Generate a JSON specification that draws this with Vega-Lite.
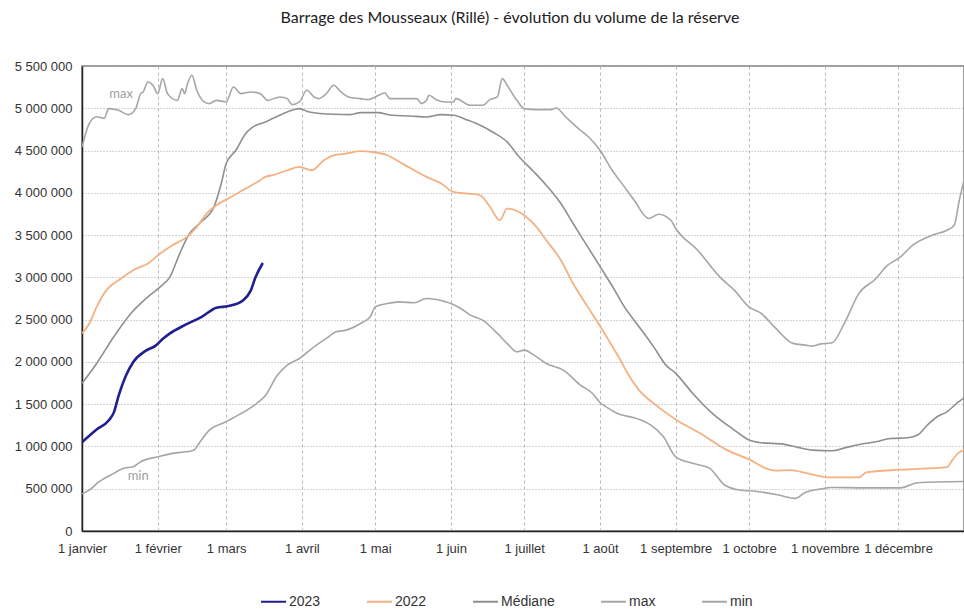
{
  "$schema": "https://vega.github.io/schema/vega-lite/v6.json",
  "width": 882,
  "height": 465,
  "autosize": {"type": "none"},
  "padding": {"left": 82, "top": 66, "right": 0, "bottom": 80},
  "background": "white",
  "title": {
    "text": "Barrage des Mousseaux (Rillé) - évolution du volume de la réserve",
    "font": "Lato",
    "fontSize": 16,
    "fontWeight": "normal",
    "color": "#222222",
    "anchor": "middle",
    "dx": -13,
    "offset": 34
  },
  "config": {
    "view": {"stroke": "#808080", "strokeWidth": 1.5},
    "axis": {
      "labelFont": "Liberation Sans",
      "labelFontSize": 13,
      "labelColor": "#333333",
      "ticks": false,
      "domainColor": "#222222",
      "domainWidth": 1.5,
      "title": null
    },
    "legend": {
      "labelFont": "Liberation Sans",
      "labelFontSize": 14,
      "labelColor": "#333333"
    }
  },
  "datasets": {
    "series": [
      {"d": "2023-01-01", "s": "min", "v": 440000},
      {"d": "2023-01-04", "s": "min", "v": 485000},
      {"d": "2023-01-08", "s": "min", "v": 583000},
      {"d": "2023-01-14", "s": "min", "v": 682000},
      {"d": "2023-01-18", "s": "min", "v": 741000},
      {"d": "2023-01-22", "s": "min", "v": 760000},
      {"d": "2023-01-25", "s": "min", "v": 819000},
      {"d": "2023-02-01", "s": "min", "v": 878000},
      {"d": "2023-02-07", "s": "min", "v": 918000},
      {"d": "2023-02-15", "s": "min", "v": 950000},
      {"d": "2023-02-16", "s": "min", "v": 960000},
      {"d": "2023-02-18", "s": "min", "v": 1040000},
      {"d": "2023-02-22", "s": "min", "v": 1190000},
      {"d": "2023-02-28", "s": "min", "v": 1280000},
      {"d": "2023-03-04", "s": "min", "v": 1340000},
      {"d": "2023-03-09", "s": "min", "v": 1420000},
      {"d": "2023-03-14", "s": "min", "v": 1520000},
      {"d": "2023-03-17", "s": "min", "v": 1600000},
      {"d": "2023-03-22", "s": "min", "v": 1844000},
      {"d": "2023-03-26", "s": "min", "v": 1962000},
      {"d": "2023-03-31", "s": "min", "v": 2040000},
      {"d": "2023-04-06", "s": "min", "v": 2178000},
      {"d": "2023-04-11", "s": "min", "v": 2278000},
      {"d": "2023-04-15", "s": "min", "v": 2356000},
      {"d": "2023-04-19", "s": "min", "v": 2376000},
      {"d": "2023-04-25", "s": "min", "v": 2455000},
      {"d": "2023-04-29", "s": "min", "v": 2533000},
      {"d": "2023-05-01", "s": "min", "v": 2651000},
      {"d": "2023-05-06", "s": "min", "v": 2691000},
      {"d": "2023-05-11", "s": "min", "v": 2710000},
      {"d": "2023-05-17", "s": "min", "v": 2699000},
      {"d": "2023-05-22", "s": "min", "v": 2750000},
      {"d": "2023-05-26", "s": "min", "v": 2738000},
      {"d": "2023-05-30", "s": "min", "v": 2710000},
      {"d": "2023-06-01", "s": "min", "v": 2691000},
      {"d": "2023-06-05", "s": "min", "v": 2632000},
      {"d": "2023-06-09", "s": "min", "v": 2553000},
      {"d": "2023-06-14", "s": "min", "v": 2494000},
      {"d": "2023-06-20", "s": "min", "v": 2337000},
      {"d": "2023-06-24", "s": "min", "v": 2219000},
      {"d": "2023-06-28", "s": "min", "v": 2120000},
      {"d": "2023-07-01", "s": "min", "v": 2139000},
      {"d": "2023-07-05", "s": "min", "v": 2080000},
      {"d": "2023-07-10", "s": "min", "v": 1982000},
      {"d": "2023-07-17", "s": "min", "v": 1903000},
      {"d": "2023-07-24", "s": "min", "v": 1726000},
      {"d": "2023-07-29", "s": "min", "v": 1627000},
      {"d": "2023-08-01", "s": "min", "v": 1520000},
      {"d": "2023-08-04", "s": "min", "v": 1460000},
      {"d": "2023-08-09", "s": "min", "v": 1380000},
      {"d": "2023-08-15", "s": "min", "v": 1340000},
      {"d": "2023-08-18", "s": "min", "v": 1310000},
      {"d": "2023-08-22", "s": "min", "v": 1250000},
      {"d": "2023-08-27", "s": "min", "v": 1115000},
      {"d": "2023-09-01", "s": "min", "v": 878000},
      {"d": "2023-09-08", "s": "min", "v": 800000},
      {"d": "2023-09-15", "s": "min", "v": 741000},
      {"d": "2023-09-18", "s": "min", "v": 642000},
      {"d": "2023-09-21", "s": "min", "v": 544000},
      {"d": "2023-09-27", "s": "min", "v": 485000},
      {"d": "2023-10-05", "s": "min", "v": 465000},
      {"d": "2023-10-13", "s": "min", "v": 426000},
      {"d": "2023-10-20", "s": "min", "v": 386000},
      {"d": "2023-10-24", "s": "min", "v": 455000},
      {"d": "2023-10-30", "s": "min", "v": 495000},
      {"d": "2023-11-04", "s": "min", "v": 515000},
      {"d": "2023-11-17", "s": "min", "v": 510000},
      {"d": "2023-12-02", "s": "min", "v": 510000},
      {"d": "2023-12-09", "s": "min", "v": 570000},
      {"d": "2023-12-28", "s": "min", "v": 585000},

      {"d": "2023-01-01", "s": "max", "v": 4540000},
      {"d": "2023-01-04", "s": "max", "v": 4820000},
      {"d": "2023-01-07", "s": "max", "v": 4900000},
      {"d": "2023-01-10", "s": "max", "v": 4880000},
      {"d": "2023-01-12", "s": "max", "v": 4996000},
      {"d": "2023-01-16", "s": "max", "v": 4976000},
      {"d": "2023-01-20", "s": "max", "v": 4925000},
      {"d": "2023-01-23", "s": "max", "v": 4996000},
      {"d": "2023-01-25", "s": "max", "v": 5173000},
      {"d": "2023-01-26", "s": "max", "v": 5193000},
      {"d": "2023-01-28", "s": "max", "v": 5311000},
      {"d": "2023-01-30", "s": "max", "v": 5272000},
      {"d": "2023-02-01", "s": "max", "v": 5173000},
      {"d": "2023-02-03", "s": "max", "v": 5351000},
      {"d": "2023-02-05", "s": "max", "v": 5173000},
      {"d": "2023-02-09", "s": "max", "v": 5094000},
      {"d": "2023-02-11", "s": "max", "v": 5232000},
      {"d": "2023-02-12", "s": "max", "v": 5173000},
      {"d": "2023-02-13", "s": "max", "v": 5272000},
      {"d": "2023-02-15", "s": "max", "v": 5390000},
      {"d": "2023-02-17", "s": "max", "v": 5213000},
      {"d": "2023-02-20", "s": "max", "v": 5075000},
      {"d": "2023-02-22", "s": "max", "v": 5055000},
      {"d": "2023-02-25", "s": "max", "v": 5094000},
      {"d": "2023-03-01", "s": "max", "v": 5075000},
      {"d": "2023-03-04", "s": "max", "v": 5252000},
      {"d": "2023-03-07", "s": "max", "v": 5173000},
      {"d": "2023-03-11", "s": "max", "v": 5193000},
      {"d": "2023-03-15", "s": "max", "v": 5173000},
      {"d": "2023-03-18", "s": "max", "v": 5094000},
      {"d": "2023-03-23", "s": "max", "v": 5134000},
      {"d": "2023-03-26", "s": "max", "v": 5114000},
      {"d": "2023-03-28", "s": "max", "v": 5043000},
      {"d": "2023-03-31", "s": "max", "v": 5075000},
      {"d": "2023-04-03", "s": "max", "v": 5213000},
      {"d": "2023-04-06", "s": "max", "v": 5134000},
      {"d": "2023-04-08", "s": "max", "v": 5114000},
      {"d": "2023-04-11", "s": "max", "v": 5173000},
      {"d": "2023-04-14", "s": "max", "v": 5272000},
      {"d": "2023-04-17", "s": "max", "v": 5193000},
      {"d": "2023-04-20", "s": "max", "v": 5134000},
      {"d": "2023-04-25", "s": "max", "v": 5114000},
      {"d": "2023-04-28", "s": "max", "v": 5102000},
      {"d": "2023-05-01", "s": "max", "v": 5134000},
      {"d": "2023-05-05", "s": "max", "v": 5181000},
      {"d": "2023-05-07", "s": "max", "v": 5114000},
      {"d": "2023-05-18", "s": "max", "v": 5114000},
      {"d": "2023-05-20", "s": "max", "v": 5055000},
      {"d": "2023-05-22", "s": "max", "v": 5094000},
      {"d": "2023-05-23", "s": "max", "v": 5154000},
      {"d": "2023-05-26", "s": "max", "v": 5102000},
      {"d": "2023-05-30", "s": "max", "v": 5075000},
      {"d": "2023-06-02", "s": "max", "v": 5075000},
      {"d": "2023-06-03", "s": "max", "v": 5114000},
      {"d": "2023-06-09", "s": "max", "v": 5035000},
      {"d": "2023-06-14", "s": "max", "v": 5035000},
      {"d": "2023-06-17", "s": "max", "v": 5102000},
      {"d": "2023-06-20", "s": "max", "v": 5134000},
      {"d": "2023-06-22", "s": "max", "v": 5351000},
      {"d": "2023-06-24", "s": "max", "v": 5272000},
      {"d": "2023-06-28", "s": "max", "v": 5094000},
      {"d": "2023-07-01", "s": "max", "v": 4996000},
      {"d": "2023-07-06", "s": "max", "v": 4984000},
      {"d": "2023-07-12", "s": "max", "v": 4984000},
      {"d": "2023-07-14", "s": "max", "v": 5004000},
      {"d": "2023-07-18", "s": "max", "v": 4897000},
      {"d": "2023-07-24", "s": "max", "v": 4740000},
      {"d": "2023-07-28", "s": "max", "v": 4642000},
      {"d": "2023-08-01", "s": "max", "v": 4503000},
      {"d": "2023-08-06", "s": "max", "v": 4267000},
      {"d": "2023-08-11", "s": "max", "v": 4070000},
      {"d": "2023-08-15", "s": "max", "v": 3912000},
      {"d": "2023-08-21", "s": "max", "v": 3696000},
      {"d": "2023-08-25", "s": "max", "v": 3747000},
      {"d": "2023-08-30", "s": "max", "v": 3676000},
      {"d": "2023-09-01", "s": "max", "v": 3578000},
      {"d": "2023-09-10", "s": "max", "v": 3321000},
      {"d": "2023-09-19", "s": "max", "v": 3006000},
      {"d": "2023-09-25", "s": "max", "v": 2849000},
      {"d": "2023-10-01", "s": "max", "v": 2651000},
      {"d": "2023-10-06", "s": "max", "v": 2573000},
      {"d": "2023-10-12", "s": "max", "v": 2396000},
      {"d": "2023-10-19", "s": "max", "v": 2219000},
      {"d": "2023-10-24", "s": "max", "v": 2199000},
      {"d": "2023-10-27", "s": "max", "v": 2187000},
      {"d": "2023-10-30", "s": "max", "v": 2210000},
      {"d": "2023-11-04", "s": "max", "v": 2226000},
      {"d": "2023-11-09", "s": "max", "v": 2455000},
      {"d": "2023-11-15", "s": "max", "v": 2810000},
      {"d": "2023-11-22", "s": "max", "v": 2987000},
      {"d": "2023-11-26", "s": "max", "v": 3124000},
      {"d": "2023-12-02", "s": "max", "v": 3242000},
      {"d": "2023-12-07", "s": "max", "v": 3381000},
      {"d": "2023-12-15", "s": "max", "v": 3499000},
      {"d": "2023-12-21", "s": "max", "v": 3558000},
      {"d": "2023-12-24", "s": "max", "v": 3617000},
      {"d": "2023-12-26", "s": "max", "v": 3900000},
      {"d": "2023-12-28", "s": "max", "v": 4150000},

      {"d": "2023-01-01", "s": "Médiane", "v": 1746000},
      {"d": "2023-01-07", "s": "Médiane", "v": 1982000},
      {"d": "2023-01-14", "s": "Médiane", "v": 2297000},
      {"d": "2023-01-21", "s": "Médiane", "v": 2573000},
      {"d": "2023-01-28", "s": "Médiane", "v": 2770000},
      {"d": "2023-02-02", "s": "Médiane", "v": 2888000},
      {"d": "2023-02-06", "s": "Médiane", "v": 3006000},
      {"d": "2023-02-10", "s": "Médiane", "v": 3282000},
      {"d": "2023-02-14", "s": "Médiane", "v": 3519000},
      {"d": "2023-02-18", "s": "Médiane", "v": 3637000},
      {"d": "2023-02-24", "s": "Médiane", "v": 3833000},
      {"d": "2023-02-27", "s": "Médiane", "v": 4110000},
      {"d": "2023-03-01", "s": "Médiane", "v": 4346000},
      {"d": "2023-03-05", "s": "Médiane", "v": 4503000},
      {"d": "2023-03-09", "s": "Médiane", "v": 4701000},
      {"d": "2023-03-12", "s": "Médiane", "v": 4779000},
      {"d": "2023-03-17", "s": "Médiane", "v": 4838000},
      {"d": "2023-03-20", "s": "Médiane", "v": 4878000},
      {"d": "2023-03-26", "s": "Médiane", "v": 4956000},
      {"d": "2023-03-31", "s": "Médiane", "v": 4996000},
      {"d": "2023-04-04", "s": "Médiane", "v": 4956000},
      {"d": "2023-04-14", "s": "Médiane", "v": 4929000},
      {"d": "2023-04-21", "s": "Médiane", "v": 4925000},
      {"d": "2023-04-25", "s": "Médiane", "v": 4949000},
      {"d": "2023-05-02", "s": "Médiane", "v": 4949000},
      {"d": "2023-05-08", "s": "Médiane", "v": 4917000},
      {"d": "2023-05-15", "s": "Médiane", "v": 4909000},
      {"d": "2023-05-22", "s": "Médiane", "v": 4897000},
      {"d": "2023-05-28", "s": "Médiane", "v": 4925000},
      {"d": "2023-06-02", "s": "Médiane", "v": 4917000},
      {"d": "2023-06-08", "s": "Médiane", "v": 4858000},
      {"d": "2023-06-13", "s": "Médiane", "v": 4799000},
      {"d": "2023-06-18", "s": "Médiane", "v": 4720000},
      {"d": "2023-06-24", "s": "Médiane", "v": 4602000},
      {"d": "2023-06-29", "s": "Médiane", "v": 4424000},
      {"d": "2023-07-05", "s": "Médiane", "v": 4247000},
      {"d": "2023-07-10", "s": "Médiane", "v": 4090000},
      {"d": "2023-07-16", "s": "Médiane", "v": 3873000},
      {"d": "2023-07-21", "s": "Médiane", "v": 3637000},
      {"d": "2023-07-27", "s": "Médiane", "v": 3360000},
      {"d": "2023-08-01", "s": "Médiane", "v": 3130000},
      {"d": "2023-08-07", "s": "Médiane", "v": 2849000},
      {"d": "2023-08-11", "s": "Médiane", "v": 2651000},
      {"d": "2023-08-16", "s": "Médiane", "v": 2455000},
      {"d": "2023-08-23", "s": "Médiane", "v": 2178000},
      {"d": "2023-08-28", "s": "Médiane", "v": 1962000},
      {"d": "2023-09-01", "s": "Médiane", "v": 1864000},
      {"d": "2023-09-08", "s": "Médiane", "v": 1627000},
      {"d": "2023-09-16", "s": "Médiane", "v": 1391000},
      {"d": "2023-09-25", "s": "Médiane", "v": 1194000},
      {"d": "2023-10-01", "s": "Médiane", "v": 1076000},
      {"d": "2023-10-06", "s": "Médiane", "v": 1044000},
      {"d": "2023-10-15", "s": "Médiane", "v": 1028000},
      {"d": "2023-10-21", "s": "Médiane", "v": 989000},
      {"d": "2023-10-27", "s": "Médiane", "v": 957000},
      {"d": "2023-11-04", "s": "Médiane", "v": 949000},
      {"d": "2023-11-10", "s": "Médiane", "v": 989000},
      {"d": "2023-11-16", "s": "Médiane", "v": 1028000},
      {"d": "2023-11-22", "s": "Médiane", "v": 1055000},
      {"d": "2023-11-28", "s": "Médiane", "v": 1095000},
      {"d": "2023-12-05", "s": "Médiane", "v": 1103000},
      {"d": "2023-12-09", "s": "Médiane", "v": 1135000},
      {"d": "2023-12-13", "s": "Médiane", "v": 1253000},
      {"d": "2023-12-17", "s": "Médiane", "v": 1351000},
      {"d": "2023-12-21", "s": "Médiane", "v": 1410000},
      {"d": "2023-12-25", "s": "Médiane", "v": 1509000},
      {"d": "2023-12-28", "s": "Médiane", "v": 1575000},

      {"d": "2023-01-01", "s": "2022", "v": 2337000},
      {"d": "2023-01-04", "s": "2022", "v": 2455000},
      {"d": "2023-01-07", "s": "2022", "v": 2651000},
      {"d": "2023-01-11", "s": "2022", "v": 2849000},
      {"d": "2023-01-17", "s": "2022", "v": 2987000},
      {"d": "2023-01-22", "s": "2022", "v": 3085000},
      {"d": "2023-01-28", "s": "2022", "v": 3164000},
      {"d": "2023-02-02", "s": "2022", "v": 3282000},
      {"d": "2023-02-07", "s": "2022", "v": 3381000},
      {"d": "2023-02-13", "s": "2022", "v": 3479000},
      {"d": "2023-02-17", "s": "2022", "v": 3597000},
      {"d": "2023-02-21", "s": "2022", "v": 3755000},
      {"d": "2023-02-25", "s": "2022", "v": 3853000},
      {"d": "2023-03-03", "s": "2022", "v": 3951000},
      {"d": "2023-03-09", "s": "2022", "v": 4051000},
      {"d": "2023-03-15", "s": "2022", "v": 4150000},
      {"d": "2023-03-17", "s": "2022", "v": 4188000},
      {"d": "2023-03-20", "s": "2022", "v": 4208000},
      {"d": "2023-03-26", "s": "2022", "v": 4267000},
      {"d": "2023-03-31", "s": "2022", "v": 4306000},
      {"d": "2023-04-05", "s": "2022", "v": 4267000},
      {"d": "2023-04-10", "s": "2022", "v": 4385000},
      {"d": "2023-04-14", "s": "2022", "v": 4444000},
      {"d": "2023-04-19", "s": "2022", "v": 4464000},
      {"d": "2023-04-25", "s": "2022", "v": 4492000},
      {"d": "2023-04-30", "s": "2022", "v": 4483000},
      {"d": "2023-05-06", "s": "2022", "v": 4444000},
      {"d": "2023-05-11", "s": "2022", "v": 4365000},
      {"d": "2023-05-17", "s": "2022", "v": 4267000},
      {"d": "2023-05-22", "s": "2022", "v": 4188000},
      {"d": "2023-05-28", "s": "2022", "v": 4110000},
      {"d": "2023-06-02", "s": "2022", "v": 4011000},
      {"d": "2023-06-08", "s": "2022", "v": 3991000},
      {"d": "2023-06-13", "s": "2022", "v": 3971000},
      {"d": "2023-06-17", "s": "2022", "v": 3833000},
      {"d": "2023-06-21", "s": "2022", "v": 3676000},
      {"d": "2023-06-24", "s": "2022", "v": 3814000},
      {"d": "2023-07-01", "s": "2022", "v": 3735000},
      {"d": "2023-07-06", "s": "2022", "v": 3597000},
      {"d": "2023-07-10", "s": "2022", "v": 3440000},
      {"d": "2023-07-16", "s": "2022", "v": 3203000},
      {"d": "2023-07-21", "s": "2022", "v": 2928000},
      {"d": "2023-07-27", "s": "2022", "v": 2651000},
      {"d": "2023-08-01", "s": "2022", "v": 2425000},
      {"d": "2023-08-07", "s": "2022", "v": 2139000},
      {"d": "2023-08-09", "s": "2022", "v": 2040000},
      {"d": "2023-08-12", "s": "2022", "v": 1880000},
      {"d": "2023-08-17", "s": "2022", "v": 1667000},
      {"d": "2023-08-23", "s": "2022", "v": 1509000},
      {"d": "2023-09-01", "s": "2022", "v": 1320000},
      {"d": "2023-09-11", "s": "2022", "v": 1155000},
      {"d": "2023-09-22", "s": "2022", "v": 957000},
      {"d": "2023-10-01", "s": "2022", "v": 847000},
      {"d": "2023-10-09", "s": "2022", "v": 730000},
      {"d": "2023-10-12", "s": "2022", "v": 713000},
      {"d": "2023-10-18", "s": "2022", "v": 721000},
      {"d": "2023-10-25", "s": "2022", "v": 682000},
      {"d": "2023-11-02", "s": "2022", "v": 635000},
      {"d": "2023-11-15", "s": "2022", "v": 635000},
      {"d": "2023-11-18", "s": "2022", "v": 694000},
      {"d": "2023-12-02", "s": "2022", "v": 725000},
      {"d": "2023-12-21", "s": "2022", "v": 755000},
      {"d": "2023-12-23", "s": "2022", "v": 830000},
      {"d": "2023-12-26", "s": "2022", "v": 930000},
      {"d": "2023-12-28", "s": "2022", "v": 955000},

      {"d": "2023-01-01", "s": "2023", "v": 1050000},
      {"d": "2023-01-07", "s": "2023", "v": 1200000},
      {"d": "2023-01-12", "s": "2023", "v": 1310000},
      {"d": "2023-01-14", "s": "2023", "v": 1400000},
      {"d": "2023-01-16", "s": "2023", "v": 1600000},
      {"d": "2023-01-19", "s": "2023", "v": 1840000},
      {"d": "2023-01-22", "s": "2023", "v": 2000000},
      {"d": "2023-01-27", "s": "2023", "v": 2130000},
      {"d": "2023-01-31", "s": "2023", "v": 2190000},
      {"d": "2023-02-03", "s": "2023", "v": 2270000},
      {"d": "2023-02-06", "s": "2023", "v": 2337000},
      {"d": "2023-02-12", "s": "2023", "v": 2435000},
      {"d": "2023-02-19", "s": "2023", "v": 2533000},
      {"d": "2023-02-25", "s": "2023", "v": 2640000},
      {"d": "2023-03-02", "s": "2023", "v": 2660000},
      {"d": "2023-03-08", "s": "2023", "v": 2730000},
      {"d": "2023-03-11", "s": "2023", "v": 2840000},
      {"d": "2023-03-13", "s": "2023", "v": 3000000},
      {"d": "2023-03-16", "s": "2023", "v": 3170000}
    ],
    "labels": [
      {"d": "2023-01-17", "v": 5165000, "t": "max"},
      {"d": "2023-01-24", "v": 650000, "t": "min"}
    ]
  },
  "encoding": {
    "x": {
      "field": "d",
      "type": "temporal",
      "scale": {
        "type": "utc",
        "domain": [
          {"year": 2023, "month": 1, "date": 1, "utc": true},
          {"year": 2023, "month": 12, "date": 28, "utc": true}
        ]
      },
      "axis": {
        "values": [
          {"year": 2023, "month": 1, "date": 1, "utc": true},
          {"year": 2023, "month": 2, "date": 1, "utc": true},
          {"year": 2023, "month": 3, "date": 1, "utc": true},
          {"year": 2023, "month": 4, "date": 1, "utc": true},
          {"year": 2023, "month": 5, "date": 1, "utc": true},
          {"year": 2023, "month": 6, "date": 1, "utc": true},
          {"year": 2023, "month": 7, "date": 1, "utc": true},
          {"year": 2023, "month": 8, "date": 1, "utc": true},
          {"year": 2023, "month": 9, "date": 1, "utc": true},
          {"year": 2023, "month": 10, "date": 1, "utc": true},
          {"year": 2023, "month": 11, "date": 1, "utc": true},
          {"year": 2023, "month": 12, "date": 1, "utc": true}
        ],
        "labelExpr": "['1 janvier','1 février','1 mars','1 avril','1 mai','1 juin','1 juillet','1 août','1 septembre','1 octobre','1 novembre','1 décembre'][utcmonth(datum.value)]",
        "labelOverlap": false,
        "labelFlush": false,
        "labelBound": false,
        "labelPadding": 11,
        "grid": true,
        "gridDash": [3, 3],
        "gridColor": "#b8b8b8",
        "gridWidth": 1
      }
    },
    "y": {
      "field": "v",
      "type": "quantitative",
      "scale": {"domain": [0, 5500000], "nice": false, "zero": true},
      "axis": {
        "values": [0, 500000, 1000000, 1500000, 2000000, 2500000, 3000000, 3500000, 4000000, 4500000, 5000000, 5500000],
        "labelExpr": "replace(format(datum.value, ','), regexp(',', 'g'), ' ')",
        "labelPadding": 10,
        "labelOverlap": false,
        "grid": true,
        "gridDash": [1, 2],
        "gridColor": "#a8a8a8",
        "gridWidth": 1
      }
    }
  },
  "layer": [
    {
      "data": {"name": "series"},
      "transform": [{"filter": "datum.s == 'min' || datum.s == 'max' || datum.s == 'Médiane'"}],
      "mark": {"type": "line", "strokeWidth": 1.6, "interpolate": "monotone", "clip": true},
      "encoding": {
        "color": {
          "field": "s",
          "type": "nominal",
          "scale": {
            "domain": ["2023", "2022", "Médiane", "max", "min"],
            "range": ["#1f1f8f", "#f4b183", "#8f8f8f", "#a6a6a6", "#a6a6a6"]
          },
          "legend": {
            "title": null,
            "orient": "none",
            "direction": "horizontal",
            "legendX": 178,
            "legendY": 522,
            "symbolType": "stroke",
            "symbolSize": 625,
            "symbolStrokeWidth": 2,
            "labelOffset": 2,
            "columnPadding": 42
          }
        }
      }
    },
    {
      "data": {"name": "series"},
      "transform": [{"filter": "datum.s == '2022'"}],
      "mark": {"type": "line", "strokeWidth": 1.8, "interpolate": "monotone", "clip": true},
      "encoding": {"color": {"field": "s", "type": "nominal"}}
    },
    {
      "data": {"name": "series"},
      "transform": [{"filter": "datum.s == '2023'"}],
      "mark": {"type": "line", "strokeWidth": 2.6, "interpolate": "monotone", "clip": true},
      "encoding": {"color": {"field": "s", "type": "nominal"}}
    },
    {
      "data": {"name": "labels"},
      "mark": {"type": "text", "font": "Lato", "fontSize": 13, "color": "#a0a0a0", "align": "center", "baseline": "middle"},
      "encoding": {"text": {"field": "t"}}
    }
  ]
}
